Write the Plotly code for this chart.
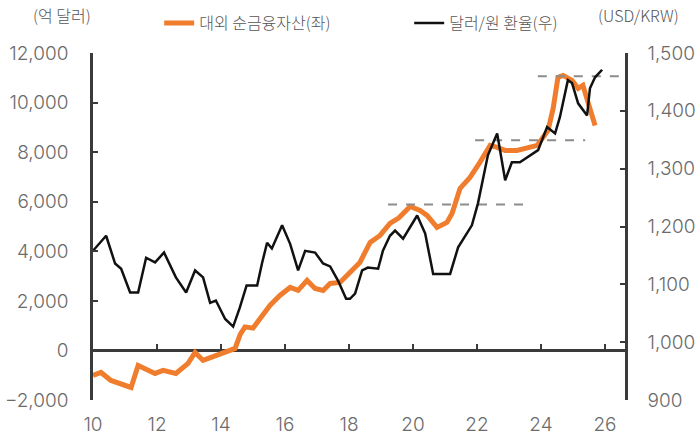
import plotly.graph_objects as go

# ---- data ----
nfa_t = [2010.00, 2010.25, 2010.56, 2011.19, 2011.41, 2011.63, 2011.94, 2012.19, 2012.59, 2012.97,
         2013.19, 2013.44, 2013.84, 2014.22, 2014.44, 2014.60, 2014.75, 2015.00, 2015.53, 2015.84,
         2016.16, 2016.41, 2016.69, 2016.94, 2017.19, 2017.41, 2017.72, 2018.03, 2018.34, 2018.66,
         2018.97, 2019.28, 2019.56, 2019.91, 2020.22, 2020.44, 2020.75, 2021.06, 2021.22, 2021.47,
         2021.78, 2022.09, 2022.41, 2022.63, 2022.88, 2023.25, 2023.56, 2023.88, 2024.06, 2024.22,
         2024.38, 2024.53, 2024.69, 2024.97, 2025.16, 2025.31, 2025.47, 2025.69]
nfa_v = [-1009, -888, -1210, -1493, -605, -726, -928, -807, -928, -525,
         -81, -404, -202, 0, 80, 650, 950, 900, 1816, 2219,
         2542, 2421, 2825, 2502, 2421, 2703, 2744, 3147, 3551, 4358,
         4640, 5124, 5350, 5810, 5649, 5447, 4963, 5165, 5528, 6537,
         6981, 7586, 8272, 8191, 8070, 8070, 8150, 8272, 8594, 8877,
         9765, 11015, 11096, 10894, 10572, 10693, 10007, 9079]

fx_t = [2010.00, 2010.41, 2010.69, 2010.88, 2011.16, 2011.41, 2011.66, 2011.94, 2012.22, 2012.59,
        2012.91, 2013.19, 2013.44, 2013.66, 2013.84, 2014.13, 2014.38, 2014.59, 2014.80, 2015.13,
        2015.28, 2015.44, 2015.59, 2015.91, 2016.16, 2016.41, 2016.63, 2016.94, 2017.19, 2017.41,
        2017.66, 2017.91, 2018.03, 2018.19, 2018.41, 2018.59, 2018.91, 2019.06, 2019.28, 2019.44,
        2019.69, 2020.13, 2020.38, 2020.63, 2021.16, 2021.41, 2021.84, 2022.03, 2022.34, 2022.63,
        2022.88, 2023.09, 2023.34, 2023.66, 2023.91, 2024.19, 2024.44, 2024.59, 2024.84, 2024.97,
        2025.16, 2025.44, 2025.53, 2025.69, 2025.91]
fx_v = [1158, 1184, 1136, 1127, 1086, 1086, 1146, 1138, 1155, 1112,
        1086, 1124, 1112, 1068, 1072, 1040, 1027, 1060, 1098, 1098,
        1136, 1172, 1162, 1202, 1170, 1124, 1158, 1155, 1136, 1131,
        1106, 1075, 1075, 1084, 1124, 1129, 1127, 1158, 1184, 1193,
        1179, 1219, 1188, 1118, 1118, 1164, 1202, 1240, 1323, 1361,
        1280, 1311, 1311, 1323, 1332, 1372, 1361, 1389, 1453, 1448,
        1413, 1392, 1439, 1458, 1471]

# reference (dashed) levels of the exchange rate
ref_start = [2019.22, 2021.94, 2023.90]
ref_end = [2023.44, 2025.38, 2026.625]
ref_level = [1238, 1349, 1460]

year_ticks = [2010, 2012, 2014, 2016, 2018, 2020, 2022, 2024, 2026]
year_labels = ["10", "12", "14", "16", "18", "20", "22", "24", "26"]
left_ticks = [-2000, 0, 2000, 4000, 6000, 8000, 10000, 12000]
right_ticks = [900, 1000, 1100, 1200, 1300, 1400, 1500]

ORANGE = "#EF7D2D"
BLACK = "#111111"
AXIS = "#3a3a3a"
GREY_TXT = "#6b6b6b"
FONT = "Noto Sans CJK KR"
TICKFONT = dict(size=19, color=GREY_TXT, family="Inter, Noto Sans CJK KR", weight=300)

fig = go.Figure()

for s, e, lv in zip(ref_start, ref_end, ref_level):
    fig.add_trace(go.Scatter(x=[s, e], y=[lv, lv], yaxis="y2", mode="lines",
                             line=dict(color="#8c8c8c", width=2, dash="dash"),
                             showlegend=False, hoverinfo="skip"))

fig.add_trace(go.Scatter(x=nfa_t, y=nfa_v, mode="lines", name="대외 순금융자산(좌)",
                         line=dict(color=ORANGE, width=5)))
fig.add_trace(go.Scatter(x=fx_t, y=fx_v, yaxis="y2", mode="lines", name="달러/원 환율(우)",
                         line=dict(color=BLACK, width=2.5)))
# helper trace for the tick axis sitting on the zero line
fig.add_trace(go.Scatter(x=[year_ticks[0]], y=[0], xaxis="x2", mode="markers",
                         marker=dict(opacity=0), showlegend=False, hoverinfo="skip"))

xr = [2010, 2026.625]
fig.update_layout(
    width=700, height=445,
    margin=dict(l=93, r=75, t=53, b=45, autoexpand=False),
    paper_bgcolor="white", plot_bgcolor="white",
    font=dict(family=FONT, color=GREY_TXT),
    showlegend=True,
    legend=dict(orientation="h", x=0.1244, xanchor="left", y=1.086, yanchor="middle",
                font=dict(size=16, color="#555555", family=FONT, weight=300),
                entrywidth=205, entrywidthmode="pixels",
                bgcolor="rgba(0,0,0,0)"),
    xaxis=dict(range=xr, tickvals=year_ticks, ticktext=year_labels, automargin=False,
               showline=False, ticks="", showgrid=False, zeroline=False,
               tickfont=TICKFONT, ticklabelstandoff=11),
    xaxis2=dict(range=xr, overlaying="x", anchor="free", position=2000 / 14000,
                tickvals=year_ticks[1:], ticks="inside", ticklen=6, tickwidth=2,
                tickcolor=AXIS, showticklabels=False, showline=False, automargin=False,
                showgrid=False, zeroline=False),
    yaxis=dict(range=[-2000, 12000], tickvals=left_ticks, tickformat=",", automargin=False,
               showline=True, linecolor=AXIS, linewidth=2.5,
               ticks="inside", ticklen=5, tickwidth=2, tickcolor=AXIS,
               showgrid=False, zeroline=True, zerolinecolor=AXIS, zerolinewidth=2.5,
               tickfont=TICKFONT, ticklabelstandoff=18),
    yaxis2=dict(range=[900, 1500], tickvals=right_ticks, tickformat=",", automargin=False,
                overlaying="y", side="right",
                showline=True, linecolor=AXIS, linewidth=2.5,
                ticks="inside", ticklen=5, tickwidth=2, tickcolor=AXIS,
                showgrid=False, zeroline=False,
                tickfont=TICKFONT, ticklabelstandoff=16),
    annotations=[
        dict(text="(억 달러)", xref="paper", yref="paper", x=-0.058, y=1.11,
             xanchor="center", yanchor="middle", showarrow=False,
             font=dict(size=16, color="#555555", family=FONT, weight=300)),
        dict(text="(USD/KRW)", xref="paper", yref="paper", x=1.026, y=1.11,
             xanchor="center", yanchor="middle", showarrow=False,
             font=dict(size=16, color="#555555", family=FONT, weight=300)),
    ],
)

fig.write_html("out.html")
